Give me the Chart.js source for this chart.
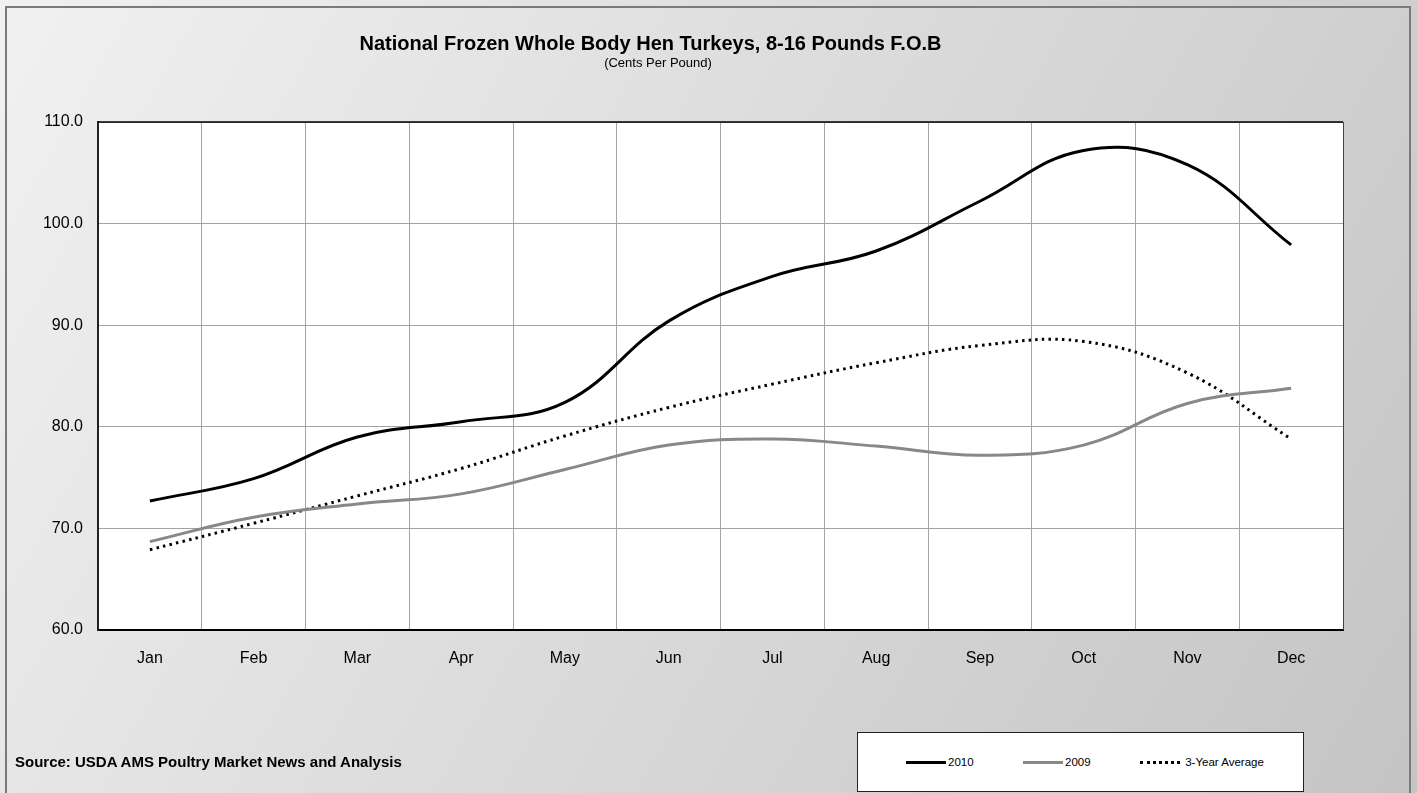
<!DOCTYPE html>
<html>
<head>
<meta charset="utf-8">
<script src="https://cdn.jsdelivr.net/npm/chart.js@4/dist/chart.umd.min.js"></script>
<style>
  body { margin: 0; overflow: hidden; font-family: Arial, "Liberation Sans", sans-serif; }
  #wrap { position: relative; width: 1417px; height: 793px; }
  #chart { position: absolute; left: 0; top: 0; }
  .txt { position: absolute; white-space: nowrap; color: #000; }
  #title { left: 0; width: 1301px; text-align: center; top: 32px; font-size: 20px; font-weight: bold; }
  #subtitle { left: 0; width: 1316px; text-align: center; top: 55px; font-size: 13px; }
  #source { left: 15px; top: 753px; font-size: 15px; font-weight: bold; }
  #legend { position: absolute; left: 857px; top: 732px; width: 445px; height: 58px;
            background: #fff; border: 1px solid #222; }
  .item { position: absolute; top: 22px; font-size: 11.5px; height: 14px; line-height: 14px; }
  .swatch { display: inline-block; width: 40px; vertical-align: middle; margin-right: 2px; }
</style>
</head>
<body>
<div id="wrap">
  <canvas id="chart" width="1417" height="793"></canvas>
  <div class="txt" id="title">National Frozen Whole Body Hen Turkeys, 8-16 Pounds F.O.B</div>
  <div class="txt" id="subtitle">(Cents Per Pound)</div>
  <div class="txt" id="source">Source: USDA AMS Poultry Market News and Analysis</div>
  <div id="legend">
    <div class="item" style="left:48px"><span class="swatch" style="border-top:3px solid #000"></span>2010</div>
    <div class="item" style="left:165px"><span class="swatch" style="border-top:3px solid #888"></span>2009</div>
    <div class="item" style="left:282px"><span class="swatch" style="border-top:3px dotted #000"></span> 3-Year Average</div>
  </div>
</div>
<script>
// Mesi sull'asse x
const months = ['Jan', 'Feb', 'Mar', 'Apr', 'May', 'Jun', 'Jul', 'Aug', 'Sep', 'Oct', 'Nov', 'Dec'];

// Prezzi (centesimi per libbra)
const prices2010 = [72.7, 74.9, 79.0, 80.5, 82.4, 90.4, 94.8, 97.3, 102.2, 107.2, 105.8, 97.9];
const prices2009 = [68.7, 71.1, 72.4, 73.4, 75.8, 78.2, 78.8, 78.1, 77.2, 78.2, 82.3, 83.8];
const pricesAvg = [67.9, 70.5, 73.2, 75.9, 79.1, 81.9, 84.2, 86.3, 88.0, 88.4, 85.3, 78.8];

// Asse y
const yMin = 60;
const yMax = 110;
const yStep = 10;

// Sfondo grigio sfumato, cornice e area bianca del grafico
const panelPlugin = {
    id: 'panel',
    beforeDraw(chart) {
        const { ctx, width, height, chartArea: a } = chart;
        ctx.save();
        const g = ctx.createLinearGradient(0, 0, width, height);
        g.addColorStop(0, '#f1f1f1');
        g.addColorStop(1, '#c4c4c4');
        ctx.fillStyle = g;
        ctx.fillRect(0, 0, width, height);
        ctx.strokeStyle = '#7a7a7a';
        ctx.lineWidth = 2;
        ctx.strokeRect(6, 7, 1404, 800);
        ctx.fillStyle = '#fff';
        ctx.fillRect(a.left, a.top, a.right - a.left, a.bottom - a.top);
        ctx.restore();
    },
    afterDraw(chart) {
        const { ctx, chartArea: a } = chart;
        ctx.save();
        ctx.strokeStyle = '#000';
        ctx.lineWidth = 1.5;
        ctx.beginPath();
        ctx.moveTo(a.left, a.top);
        ctx.lineTo(a.right, a.top);
        ctx.stroke();
        ctx.strokeStyle = '#444';
        ctx.lineWidth = 1;
        ctx.beginPath();
        ctx.moveTo(a.right + 0.5, a.top);
        ctx.lineTo(a.right + 0.5, a.bottom);
        ctx.stroke();
        ctx.restore();
    }
};

const ctx = document.getElementById('chart').getContext('2d');
new Chart(ctx, {
    type: 'line',
    data: {
        labels: months,
        datasets: [
            {
                label: '2010',
                data: prices2010,
                borderColor: '#000',
                borderWidth: 3,
                tension: 0.4,
                pointRadius: 0,
                fill: false
            },
            {
                label: '2009',
                data: prices2009,
                borderColor: '#888',
                borderWidth: 3,
                tension: 0.4,
                pointRadius: 0,
                fill: false
            },
            {
                label: '3-Year Average',
                data: pricesAvg,
                borderColor: '#000',
                borderWidth: 3,
                borderDash: [2.5, 4.2],
                tension: 0.4,
                pointRadius: 0,
                fill: false
            }
        ]
    },
    options: {
        responsive: false,
        animation: false,
        layout: { padding: { top: 122, right: 74, left: 0, bottom: 0 } },
        plugins: {
            legend: { display: false },
            tooltip: { enabled: false }
        },
        scales: {
            x: {
                offset: true,
                grid: { offset: true, color: '#a3a3a3', drawTicks: false },
                border: { color: '#000', width: 2 },
                ticks: { color: '#000', padding: 19, font: { size: 16, family: 'Arial, "Liberation Sans"' }, maxRotation: 0 },
                afterFit: s => { s.height = 163; }
            },
            y: {
                min: yMin,
                max: yMax,
                grid: { color: '#a3a3a3', drawTicks: false },
                border: { color: '#222', width: 2 },
                ticks: {
                    stepSize: yStep,
                    color: '#000',
                    padding: 15,
                    font: { size: 16, family: 'Arial, "Liberation Sans"' },
                    callback: v => v.toFixed(1)
                },
                afterFit: s => { s.width = 98; }
            }
        }
    },
    plugins: [panelPlugin]
});
</script>
</body>
</html>
